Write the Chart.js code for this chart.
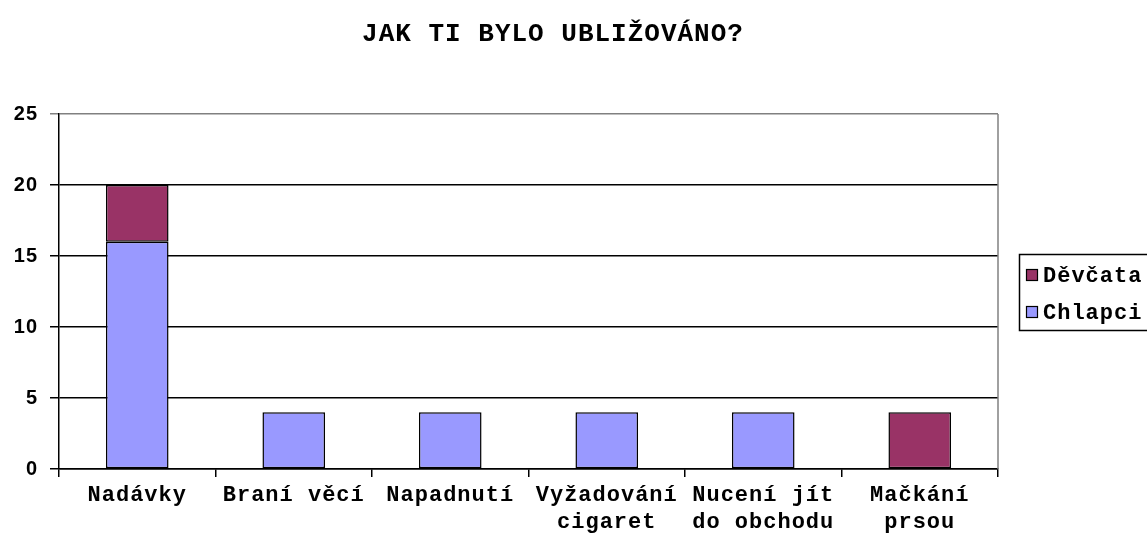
<!DOCTYPE html>
<html>
<head>
<meta charset="utf-8">
<script src="https://cdn.jsdelivr.net/npm/chart.js@4"></script>
<style>
  html, body { margin: 0; padding: 0; background: #fff; }
  #wrap { width: 1147px; height: 535px; }
</style>
</head>
<body>
<div id="wrap"><canvas id="chart1" width="1147" height="535"></canvas></div>
<script>
// data
const chartTitle = 'JAK TI BYLO UBLIŽOVÁNO?';
const categories = [
  'Nadávky', 'Braní věcí', 'Napadnutí',
  ['Vyžadování', 'cigaret'], ['Nucení jít', 'do obchodu'], ['Mačkání', 'prsou']
];
const chlapci = [16, 4, 4, 4, 4, 0];
const devcata = [4, 0, 0, 0, 0, 4];
const yTicks = [0, 5, 10, 15, 20, 25];

const monoFont = "'Liberation Mono', 'Courier New', monospace";
const sansFont = "'Liberation Sans', Arial, sans-serif";

// title, frame line on the right and the boxed legend
const extras = {
  id: 'extras',
  beforeLayout(chart) {
    chart.ctx.letterSpacing = '1px';
  },
  beforeDraw(chart) {
    chart.ctx.letterSpacing = '1px';
  },
  afterDraw(chart) {
    const ctx = chart.ctx;
    const area = chart.chartArea;
    ctx.save();

    // title
    ctx.letterSpacing = '1px';
    ctx.font = 'bold 26px ' + monoFont;
    ctx.fillStyle = '#000';
    ctx.textAlign = 'center';
    ctx.textBaseline = 'middle';
    ctx.fillText(chartTitle, 553, 34);

    // gray right border of the plot
    ctx.strokeStyle = '#808080';
    ctx.lineWidth = 1.5;
    ctx.beginPath();
    ctx.moveTo(area.right, area.top);
    ctx.lineTo(area.right, area.bottom);
    ctx.stroke();

    // legend, datasets listed in reverse
    const lx = 1019, ly = 254;
    ctx.strokeStyle = '#000';
    ctx.lineWidth = 1.5;
    ctx.strokeRect(lx + 0.5, ly + 0.5, 140, 76);
    ctx.font = 'bold 22px ' + monoFont;
    ctx.textAlign = 'left';
    const sets = chart.data.datasets.slice().reverse();
    sets.forEach((ds, i) => {
      const cy = 275 + i * 37;
      ctx.fillStyle = ds.backgroundColor;
      ctx.fillRect(1026, cy - 6, 12, 12);
      ctx.lineWidth = 1.2;
      ctx.strokeRect(1026.5, cy - 5.5, 11, 11);
      ctx.fillStyle = '#000';
      ctx.fillText(ds.label, 1043, cy + 1);
    });
    ctx.restore();
  }
};

const ctx1 = document.getElementById('chart1').getContext('2d');
new Chart(ctx1, {
  type: 'bar',
  data: {
    labels: categories,
    datasets: [
      { label: 'Chlapci', data: chlapci, backgroundColor: '#9999FF' },
      { label: 'Děvčata', data: devcata, backgroundColor: '#993366' }
    ]
  },
  options: {
    responsive: false,
    animation: false,
    events: [],
    layout: { padding: { top: 114, right: 149, left: 0, bottom: 0 } },
    plugins: {
      legend: { display: false },
      title: { display: false },
      tooltip: { enabled: false }
    },
    datasets: {
      bar: {
        categoryPercentage: 1.0,
        barPercentage: 0.4,
        borderColor: '#000',
        borderWidth: 1.5,
        borderSkipped: false
      }
    },
    scales: {
      x: {
        stacked: true,
        afterFit: s => { s.height = 66; },
        border: { color: '#000', width: 1.5 },
        grid: { drawOnChartArea: false, color: '#000', tickLength: 8, lineWidth: 1.5 },
        ticks: {
          color: '#000',
          padding: 5,
          maxRotation: 0,
          autoSkip: false,
          font: { family: monoFont, size: 22, weight: 'bold', lineHeight: 1.22 }
        }
      },
      y: {
        stacked: true,
        min: 0,
        max: 25,
        afterFit: s => { s.width = 59; },
        afterBuildTicks: s => { s.ticks = yTicks.map(v => ({ value: v })); },
        border: { color: '#000', width: 1.5 },
        grid: {
          color: c => (c.tick && c.tick.value === 25 ? '#808080' : '#000'),
          lineWidth: 1.5,
          tickLength: 9
        },
        ticks: {
          color: '#000',
          padding: 12,
          font: { family: sansFont, size: 20, weight: 'bold' }
        }
      }
    }
  },
  plugins: [extras]
});
</script>
</body>
</html>
